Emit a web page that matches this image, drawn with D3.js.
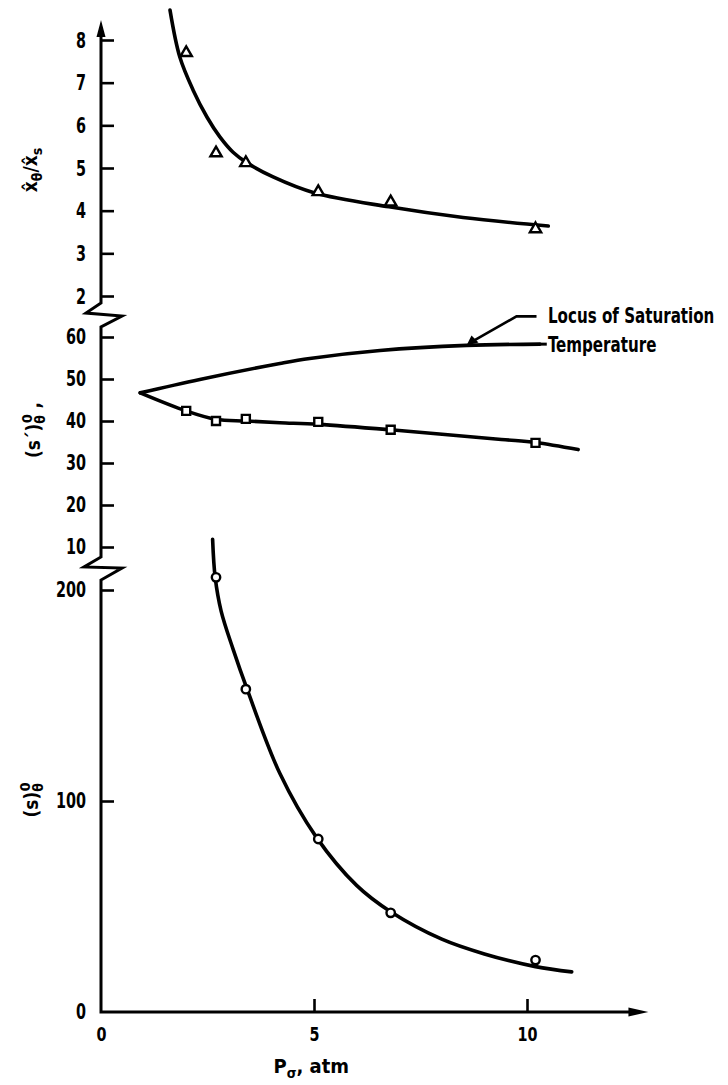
<!DOCTYPE html>
<html><head><meta charset="utf-8">
<script src="https://cdn.jsdelivr.net/npm/d3@7"></script>
<style>
body{margin:0;background:#fff}
svg{display:block}
text{font-family:"Liberation Sans Narrow","DejaVu Sans Condensed","Liberation Sans",sans-serif;font-stretch:condensed;font-weight:bold;fill:#000}
</style>
</head><body>
<svg id="c" width="728" height="1085"></svg>
<script>
// ---------------- data ----------------
const pressure      = [2.0, 2.7, 3.4, 5.1, 6.8, 10.2];      // P_sigma, atm (triangles & squares)
const ratioValues   = [7.7, 5.35, 5.12, 4.44, 4.2, 3.57];    // x̂θ/x̂s (triangles)
const sPrimeValues  = [42.4, 40.0, 40.5, 39.8, 37.9, 34.8];  // (s')θ0 (squares)
const circlePressure= [2.7, 3.4, 5.1, 6.8, 10.2];
const sValues       = [206, 153, 82, 47, 24.6];              // (s)θ0 (circles)

// faired curves [P, value]
const ratioCurve = [[1.62,8.70],[1.85,7.60],[2.16,6.83],[2.49,6.19],[2.79,5.73],[3.1,5.37],[3.43,5.12],[4.04,4.79],[5.0,4.42],[6.76,4.09],[8.5,3.84],[10.5,3.64]];
const sPrimeCurve = [[0.92,46.7],[2.0,42.4],[2.7,40.4],[3.4,40.0],[4.2,39.6],[5.1,39.2],[6.8,37.9],[9.4,35.6],[10.2,34.9],[11.2,33.2]];
const saturationCurve = [[0.92,46.7],[2.32,49.9],[4.2,53.7],[4.9,54.9],[6.55,56.8],[8.58,58.0],[10.3,58.3]];
const sCurve = [[2.62,224],[2.68,206],[2.82,190],[3.1,172],[3.43,153],[4.2,113],[5.05,83],[6.0,60],[6.8,47.5],[8.0,34.5],[9.0,27.5],[10.2,21.5],[11.05,19]];

const xTicks = [0, 5, 10];
const topTicks = [2, 3, 4, 5, 6, 7, 8];
const midTicks = [10, 20, 30, 40, 50, 60];
const botTicks = [0, 100, 200];

// ---------------- scales ----------------
const svg = d3.select("#c");
const x = d3.scaleLinear().domain([0, 10]).range([101, 527]);
const yTop = d3.scaleLinear().domain([2, 8]).range([296, 40]);
const yMid = d3.scaleLinear().domain([10, 60]).range([547, 337]);
const yBot = d3.scaleLinear().domain([0, 200]).range([1012, 590]);
const ax = x(0), ay = yBot(0);
const xEnd = x(12.85);

// ---------------- axes lines with breaks ----------------
const axisStroke = 3;
const brk1Top = yTop(2) + 7, brk1Bot = yMid(60) - 10;
const brk2Top = yMid(10) + 10, brk2Bot = yBot(200) - 10;
const yTopEnd = yTop(8) - 20;

svg.append("path").attr("fill","none").attr("stroke","#000").attr("stroke-width",axisStroke)
  .attr("d", `M${ax},${yTopEnd+12}V${brk1Top}L${ax-15},${brk1Top+10}L${ax+21},${brk1Top+13}L${ax},${brk1Bot}V${brk2Top}L${ax-17},${brk2Top+10}L${ax+21},${brk2Top+11}L${ax},${brk2Bot}V${ay}H${xEnd-10}`);
svg.append("path").attr("fill","#000")
  .attr("d", `M${ax},${yTopEnd}L${ax-4.5},${yTopEnd+17}L${ax+4.5},${yTopEnd+17}Z`);
svg.append("path").attr("fill","#000")
  .attr("d", `M${xEnd},${ay}L${xEnd-20},${ay-4.5}L${xEnd-20},${ay+4.5}Z`);

function styleAxis(g, size){
  g.select(".domain").remove();
  g.attr("font-family", null).attr("font-size", null);
  g.selectAll("line").attr("stroke","#000").attr("stroke-width",2.6);
  g.selectAll("text").attr("fill","#000").attr("font-size", size)
    .attr("textLength", function(){ return this.textContent.length * 10; })
    .attr("lengthAdjust","spacingAndGlyphs");
}
const mkLeft = (s, t) => d3.axisLeft(s).tickValues(t).tickSizeInner(-13).tickSizeOuter(0).tickPadding(15).tickFormat(d3.format("d"));
svg.append("g").attr("transform",`translate(${ax},0)`).call(mkLeft(yTop, topTicks)).call(g=>styleAxis(g,22));
svg.append("g").attr("transform",`translate(${ax},0)`).call(mkLeft(yMid, midTicks)).call(g=>styleAxis(g,21));
svg.append("g").attr("transform",`translate(${ax},0)`).call(mkLeft(yBot, botTicks)).call(g=>styleAxis(g,21))
  .call(g=>g.selectAll(".tick").filter(d=>d===0).select("line").remove());
svg.append("g").attr("transform",`translate(0,${ay})`)
  .call(d3.axisBottom(x).tickValues(xTicks).tickSizeInner(-13).tickSizeOuter(0).tickPadding(15).tickFormat(d3.format("d")))
  .call(g=>styleAxis(g,20))
  .call(g=>g.selectAll(".tick").filter(d=>d===0).select("line").remove());

// ---------------- curves ----------------
const mkLine = ys => d3.line().x(d=>x(d[0])).y(d=>ys(d[1])).curve(d3.curveCatmullRom.alpha(0.5));
const curveStyle = p => p.attr("fill","none").attr("stroke","#000").attr("stroke-width",3.6).attr("stroke-linecap","round");
svg.append("path").datum(ratioCurve).attr("d", mkLine(yTop)).call(curveStyle);
svg.append("path").datum(sPrimeCurve).attr("d", mkLine(yMid)).call(curveStyle);
svg.append("path").datum(saturationCurve).attr("d", mkLine(yMid)).call(curveStyle);
svg.append("path").datum(sCurve).attr("d", mkLine(yBot)).call(curveStyle);

// ---------------- markers ----------------
const mk = (sel) => sel.attr("fill","#fff").attr("stroke","#000").attr("stroke-width",2.4);
svg.append("g").selectAll("path").data(pressure.map((p,i)=>[p, ratioValues[i]])).join("path")
  .attr("transform", d=>`translate(${x(d[0])},${yTop(d[1])})`)
  .attr("d", d3.symbol(d3.symbolTriangle, 55)).call(mk);
svg.append("g").selectAll("path").data(pressure.map((p,i)=>[p, sPrimeValues[i]])).join("path")
  .attr("transform", d=>`translate(${x(d[0])},${yMid(d[1])})`)
  .attr("d", d3.symbol(d3.symbolSquare, 64)).call(mk);
svg.append("g").selectAll("circle").data(circlePressure.map((p,i)=>[p, sValues[i]])).join("circle")
  .attr("cx", d=>x(d[0])).attr("cy", d=>yBot(d[1])).attr("r", 4.2).call(mk);

// ---------------- annotation ----------------
const tip = [x(8.58), yMid(58.0)];
const elbow = [tip[0]+50, tip[1]-29];
svg.append("path").attr("fill","none").attr("stroke","#000").attr("stroke-width",2.6)
  .attr("d", `M${tip[0]+6},${tip[1]-4}L${elbow[0]},${elbow[1]}H${elbow[0]+20}`);
svg.append("path").attr("fill","#000")
  .attr("d", `M${tip[0]},${tip[1]}L${tip[0]+5},${tip[1]-10}L${tip[0]+12},${tip[1]-3}Z`);
svg.append("path").attr("fill","none").attr("stroke","#000").attr("stroke-width",3)
  .attr("d", `M${x(10.3)},${yMid(58.3)}H${x(10.3)+7}`);
const annX = x(10) + 21;
svg.append("text").attr("transform", `translate(${annX},${elbow[1]+7}) scale(0.8,1)`).attr("font-size",21)
  .text("Locus of Saturation");
svg.append("text").attr("transform", `translate(${annX},${yMid(58.3)+8}) scale(0.8,1)`).attr("font-size",21)
  .text("Temperature");

// ---------------- axis titles ----------------
const xt = svg.append("text").attr("x", x(4.05)).attr("y", 1073).attr("font-size",20);
xt.append("tspan").text("P");
xt.append("tspan").attr("dy",5).attr("font-size",14).text("σ");
xt.append("tspan").attr("dy",-5).text(", atm");

const t1 = svg.append("text").attr("transform","translate(37,170) rotate(-90)").attr("text-anchor","middle").attr("font-size",19);
t1.append("tspan").text("x\u0302");
t1.append("tspan").attr("dy",5).attr("font-size",14).text("θ");
t1.append("tspan").attr("dy",-5).text("/x\u0302");
t1.append("tspan").attr("dy",5).attr("font-size",14).text("s");

const t2 = svg.append("text").attr("transform","translate(40,430) rotate(-90)").attr("text-anchor","middle").attr("font-size",19);
t2.append("tspan").text("(s\u00b4)");
t2.append("tspan").attr("dy",5).attr("font-size",14).text("θ");
t2.append("tspan").attr("dx",-8).attr("dy",-13).attr("font-size",14).text("0");
t2.append("tspan").attr("dy",8).text(" ,");

const t3 = svg.append("text").attr("transform","translate(38,800) rotate(-90)").attr("text-anchor","middle").attr("font-size",19);
t3.append("tspan").text("(s)");
t3.append("tspan").attr("dy",5).attr("font-size",14).text("θ");
t3.append("tspan").attr("dx",-8).attr("dy",-13).attr("font-size",14).text("0");
</script>
</body></html>
